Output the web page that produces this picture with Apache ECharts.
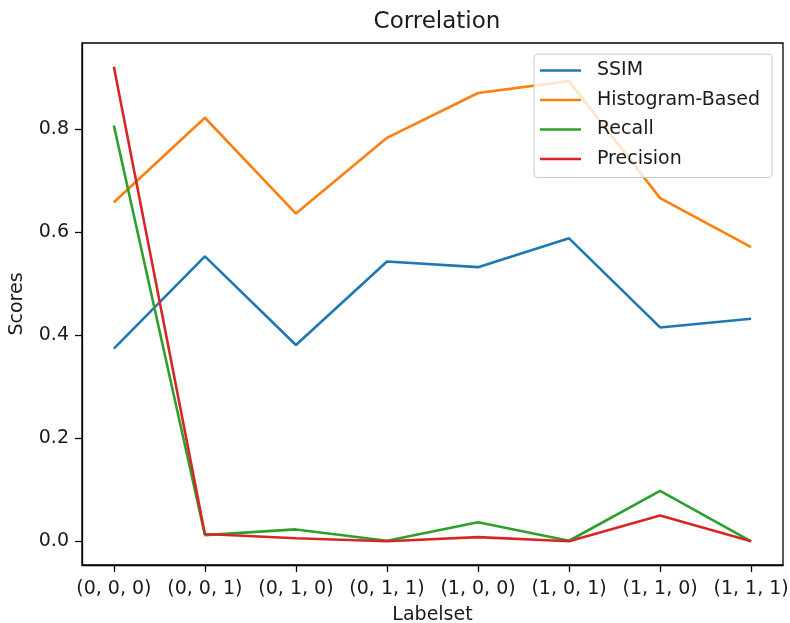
<!DOCTYPE html>
<html>
<head>
<meta charset="utf-8">
<title>Correlation</title>
<script src="https://cdn.jsdelivr.net/npm/echarts@6/dist/echarts.min.js"></script>
<style>
  html, body { margin: 0; padding: 0; background: #fff; }
  #chart { width: 790px; height: 623px; }
</style>
</head>
<body>
<div id="chart"></div>
<script>
// Label sets on the x axis
const categories = ['(0, 0, 0)', '(0, 0, 1)', '(0, 1, 0)', '(0, 1, 1)', '(1, 0, 0)', '(1, 0, 1)', '(1, 1, 0)', '(1, 1, 1)'];

// Scores per label set
const ssim      = [0.374, 0.553, 0.381, 0.543, 0.532, 0.588, 0.415, 0.432];
const histogram = [0.658, 0.822, 0.636, 0.783, 0.870, 0.893, 0.666, 0.571];
const recall    = [0.807, 0.012, 0.023, 0.001, 0.037, 0.001, 0.098, 0.000];
const precision = [0.921, 0.014, 0.006, 0.000, 0.008, 0.000, 0.050, 0.000];

const yTicks = [0.0, 0.2, 0.4, 0.6, 0.8];

const seriesDefs = [
  { name: 'SSIM', values: ssim, color: '#1f77b4' },
  { name: 'Histogram-Based', values: histogram, color: '#ff7f0e' },
  { name: 'Recall', values: recall, color: '#2ca02c' },
  { name: 'Precision', values: precision, color: '#d62728' }
];

// 5% padding around the data range, on both axes
const allValues = [].concat(ssim, histogram, recall, precision);
const yLo = Math.min.apply(null, allValues);
const yHi = Math.max.apply(null, allValues);
const yPad = (yHi - yLo) * 0.05;
const xPad = (categories.length - 1) * 0.05;
const xIdx = categories.map((_, i) => i);

const FONT = 'DejaVu Sans';
const TEXT = '#1a1a1a';

const chart = echarts.init(document.getElementById('chart'), null, { renderer: 'canvas' });

chart.setOption({
  animation: false,
  backgroundColor: '#ffffff',
  textStyle: { fontFamily: FONT },
  title: {
    text: 'Correlation',
    left: 432,
    textAlign: 'center',
    top: 6,
    textStyle: { fontFamily: FONT, fontSize: 23, fontWeight: 'normal', color: TEXT }
  },
  grid: {
    left: 82, right: 7, top: 43, bottom: 58,
    outerBoundsMode: 'none',
    containLabel: false,
    show: true,
    borderColor: '#000',
    borderWidth: 1.3,
    backgroundColor: 'transparent'
  },
  legend: {
    orient: 'vertical',
    left: 534,
    top: 54,
    padding: [5, 12, 7, 6],
    itemGap: 6.5,
    itemWidth: 41,
    itemHeight: 2.6,
    icon: 'rect',
    backgroundColor: 'rgba(255,255,255,0.8)',
    borderColor: '#cccccc',
    borderWidth: 1,
    borderRadius: 4,
    textStyle: { fontFamily: FONT, fontSize: 19, color: TEXT, lineHeight: 23, padding: [0, 0, 0, 11] },
    data: seriesDefs.map(s => s.name)
  },
  xAxis: {
    type: 'value',
    min: -xPad,
    max: categories.length - 1 + xPad,
    name: 'Labelset',
    nameLocation: 'middle',
    nameGap: 41,
    nameTextStyle: { fontFamily: FONT, fontSize: 19, color: TEXT },
    axisLine: { show: true, onZero: false, lineStyle: { color: '#000', width: 1.3 } },
    axisTick: { show: true, length: 7, lineStyle: { color: '#000', width: 1.3 }, customValues: xIdx },
    axisLabel: {
      show: true, margin: 15, fontFamily: FONT, fontSize: 19, color: TEXT,
      customValues: xIdx,
      formatter: v => categories[Math.round(v)]
    },
    splitLine: { show: false }
  },
  yAxis: {
    type: 'value',
    min: yLo - yPad,
    max: yHi + yPad,
    name: 'Scores',
    nameLocation: 'middle',
    nameGap: 55,
    nameTextStyle: { fontFamily: FONT, fontSize: 19, color: TEXT },
    axisLine: { show: true, onZero: false, lineStyle: { color: '#000', width: 1.3 } },
    axisTick: { show: true, length: 7, lineStyle: { color: '#000', width: 1.3 }, customValues: yTicks },
    axisLabel: {
      show: true, margin: 13, fontFamily: FONT, fontSize: 19, color: TEXT,
      customValues: yTicks,
      formatter: v => v.toFixed(1)
    },
    splitLine: { show: false }
  },
  series: seriesDefs.map(s => ({
    name: s.name,
    type: 'line',
    symbol: 'none',
    color: s.color,
    lineStyle: { color: s.color, width: 2.6 },
    data: s.values.map((v, i) => [i, v])
  }))
});
</script>
</body>
</html>
